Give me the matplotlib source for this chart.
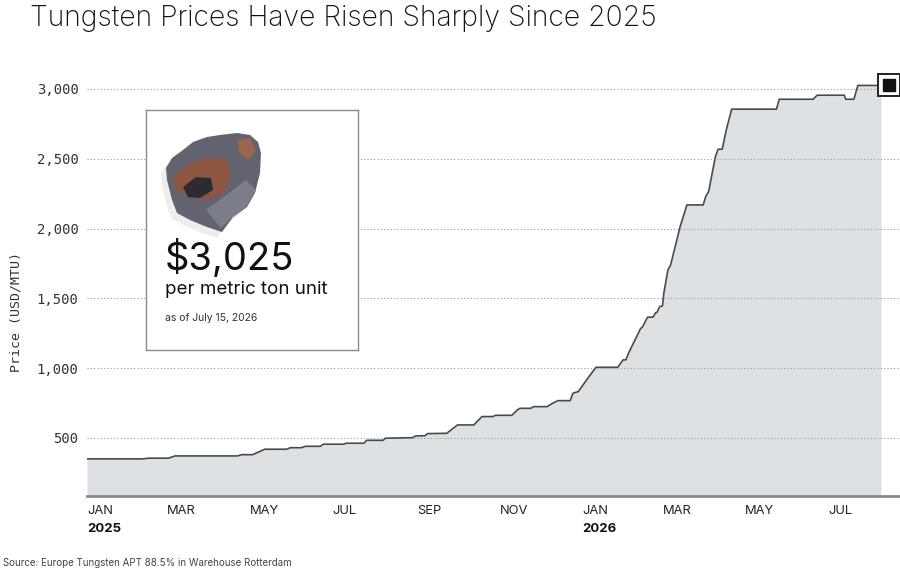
import numpy as np
import matplotlib.pyplot as plt
from matplotlib.patches import Polygon
from matplotlib.transforms import ScaledTranslation, blended_transform_factory

# weekly-ish APT price steps (USD/MTU)
dates = [
    "2025-01-01", "2025-02-11", "2025-02-16", "2025-03-02", "2025-03-07",
    "2025-04-22", "2025-04-25", "2025-05-03", "2025-05-12", "2025-05-28",
    "2025-05-31", "2025-06-08", "2025-06-11", "2025-06-22", "2025-06-24",
    "2025-07-09", "2025-07-11", "2025-07-24", "2025-07-26", "2025-08-07",
    "2025-08-09", "2025-08-29", "2025-08-31", "2025-09-07", "2025-09-09",
    "2025-09-23", "2025-10-01", "2025-10-13", "2025-10-19", "2025-10-27",
    "2025-10-29", "2025-11-10", "2025-11-14", "2025-11-16", "2025-11-24",
    "2025-11-26", "2025-12-06", "2025-12-10", "2025-12-14", "2025-12-23",
    "2025-12-25", "2025-12-29", "2026-01-05", "2026-01-11", "2026-01-27",
    "2026-01-31", "2026-02-02", "2026-02-04", "2026-02-13", "2026-02-14",
    "2026-02-18", "2026-02-22", "2026-02-24", "2026-02-25", "2026-02-27",
    "2026-03-01", "2026-03-02", "2026-03-05", "2026-03-07", "2026-03-14",
    "2026-03-19", "2026-03-31", "2026-04-02", "2026-04-04", "2026-04-09",
    "2026-04-11", "2026-04-14", "2026-04-17", "2026-04-21", "2026-05-24",
    "2026-05-26", "2026-06-20", "2026-06-23", "2026-07-13", "2026-07-14",
    "2026-07-20", "2026-07-23", "2026-08-09",
]
prices = [
    350, 350, 355, 355, 371,
    371, 380, 380, 419, 419,
    430, 430, 440, 440, 455,
    455, 462, 462, 483, 483,
    498, 502, 514, 516, 531,
    533, 593, 593, 653, 653,
    662, 662, 700, 712, 712,
    724, 724, 748, 767, 767,
    820, 832, 928, 1006, 1006,
    1059, 1059, 1107, 1286, 1290,
    1365, 1365, 1398, 1400, 1441,
    1445, 1537, 1703, 1739, 2013,
    2169, 2169, 2233, 2264, 2515,
    2568, 2568, 2706, 2855, 2855,
    2926, 2926, 2955, 2955, 2926,
    2926, 3025, 3025,
]

month_ticks = ["2025-01-01", "2025-03-01", "2025-05-01", "2025-07-01", "2025-09-01",
               "2025-11-01", "2026-01-01", "2026-03-01", "2026-05-01", "2026-07-01"]
month_labels = ["JAN", "MAR", "MAY", "JUL", "SEP", "NOV", "JAN", "MAR", "MAY", "JUL"]
year_ticks = ["2025-01-01", "2026-01-01"]
year_labels = ["2025", "2026"]
y_ticks = [500, 1000, 1500, 2000, 2500, 3000]

mono = "DejaVu Sans Mono"
sans = "Inter"

x = np.array(dates, dtype="datetime64[D]")

fig = plt.figure(figsize=(9, 5.81), dpi=100)
ax = fig.add_axes([87 / 900, 85 / 581, 813 / 900, 435 / 581])

ax.fill_between(x, prices, 0, color="#dde1e4", lw=0, zorder=1)
ax.plot(x, prices, color="#4a4a4a", lw=1.2, zorder=3)

ax.set_xlim(np.datetime64("2025-01-01"), np.datetime64("2026-08-23"))
ax.set_ylim(84, 3200)

ax.set_yticks(y_ticks)
ax.set_yticklabels([f"{v:,}" for v in y_ticks], fontfamily=mono, fontsize=10, color="#333")
ax.set_xticks(np.array(month_ticks, dtype="datetime64[D]"))
ax.set_xticklabels(month_labels, fontfamily=sans, fontsize=9.3, color="#222", ha="left")
ax.tick_params(axis="both", length=0)
ax.tick_params(axis="y", pad=6)
ax.tick_params(axis="x", pad=6.5)

ax.grid(axis="y", ls=(0, (1, 2)), color="#999", lw=0.8)
ax.grid(axis="x", visible=False)
ax.set_axisbelow(False)

for s in ["top", "right", "left"]:
    ax.spines[s].set_visible(False)
ax.spines["bottom"].set_color("#8a8a8a")
ax.spines["bottom"].set_linewidth(2)
ax.spines["bottom"].set_zorder(4)

# bold year under first month of each year
ytr = blended_transform_factory(ax.transData, ax.transAxes)
for d, lab in zip(year_ticks, year_labels):
    ax.text(np.datetime64(d), -0.062, lab, transform=ytr, ha="left", va="top",
            fontfamily=sans, fontsize=9.5, fontweight="bold", color="#111")

# end-point marker, nudged right of the last value
off = ax.transData + ScaledTranslation(8 / 100, 0, fig.dpi_scale_trans)
ax.plot(x[-1], prices[-1], marker="s", ms=16, mfc="white", mec="#222", mew=1.4,
        transform=off, clip_on=False, zorder=6)
ax.plot(x[-1], prices[-1], marker="s", ms=8, mfc="#111", mec="#111",
        transform=off, clip_on=False, zorder=7)

fig.text(16 / 900, 1 - 312 / 581, "Price (USD/MTU)", rotation=90, ha="center", va="center",
         fontfamily=mono, fontsize=9.5, color="#333")

fig.text(30 / 900, 1 - 18 / 581, "Tungsten Prices Have Risen Sharply Since 2025",
         fontfamily=sans, fontweight="light", fontsize=20.4, color="#111", va="center")
fig.text(3 / 900, 1 - 563 / 581, "Source: Europe Tungsten APT 88.5% in Warehouse Rotterdam",
         fontfamily=sans, fontsize=7, color="#444", va="center")

# callout box
ins = fig.add_axes([146 / 900, 1 - 350 / 581, 212 / 900, 240 / 581])
ins.set_xlim(0, 212)
ins.set_ylim(240, 0)
ins.set_xticks([])
ins.set_yticks([])
ins.set_facecolor("white")
for s in ins.spines.values():
    s.set_color("#8a8a8a")
    s.set_linewidth(1)

rock = [(20, 58), (26, 48), (37, 40), (47, 32), (61, 27), (74, 25), (91, 23), (104, 25),
        (112, 32), (115, 43), (114, 63), (109, 83), (101, 97), (87, 107), (76, 122),
        (61, 117), (44, 110), (31, 103), (26, 90), (21, 70)]
shadow = [(px - 5, py + 6) for px, py in rock]
ins.add_patch(Polygon(shadow, closed=True, fc="#dcdcdc", ec="none", alpha=0.5))
ins.add_patch(Polygon(rock, closed=True, fc="#62636f", ec="none"))
ins.add_patch(Polygon([(60, 100), (80, 85), (100, 70), (110, 80), (100, 97), (85, 108),
                       (75, 118)], closed=True, fc="#7b7d89", ec="none"))
ins.add_patch(Polygon([(27, 67), (44, 53), (64, 47), (81, 50), (84, 67), (77, 83), (61, 90),
                       (44, 87), (31, 80)], closed=True, fc="#8e5640", ec="none"))
ins.add_patch(Polygon([(92, 30), (104, 28), (110, 40), (102, 50), (93, 42)],
                      closed=True, fc="#9a6650", ec="none"))
ins.add_patch(Polygon([(37, 77), (50, 67), (65, 68), (67, 80), (54, 88), (42, 87)],
                      closed=True, fc="#2c2b31", ec="none"))

ins.text(19, 160, "$3,025", fontfamily=sans, fontsize=27.5, color="#111", va="baseline")
ins.text(19, 184, "per metric ton unit", fontfamily=sans, fontsize=13.5, color="#111",
         va="baseline")
ins.text(19, 211, "as of July 15, 2026", fontfamily=sans, fontsize=7.5, color="#333",
         va="baseline")

fig.savefig("out.png", dpi=100)
